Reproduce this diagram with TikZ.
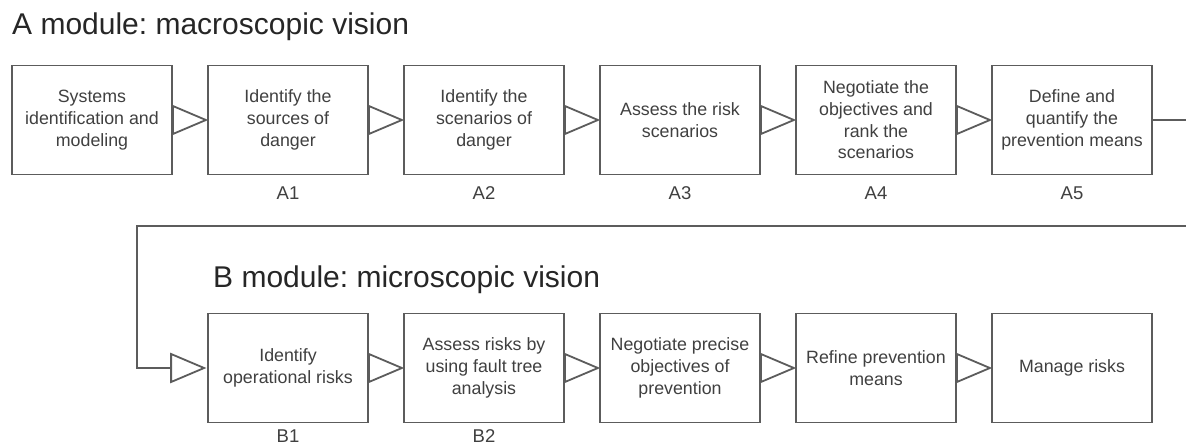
\documentclass[tikz,border=0pt]{standalone}
\usepackage{fontspec}
\setmainfont{Liberation Sans}
\usetikzlibrary{calc}
\frenchspacing
\definecolor{linegray}{HTML}{5C5C5C}
\definecolor{txtgray}{HTML}{404040}
\tikzset{
  stepbox/.style={draw=linegray, line width=1.8pt, fill=white, minimum width=160pt,
    minimum height=109pt, align=center, text=txtgray, inner sep=2pt,
    font=\fontsize{17.8}{21.7}\selectfont},
  steplabel/.style={text=txtgray, font=\fontsize{18.5}{20}\selectfont},
  title/.style={anchor=base west, text=black!85, inner sep=0pt, font=\fontsize{30}{32}\selectfont},
  flowline/.style={draw=linegray, line width=1.8pt},
  flowtri/.style={draw=linegray, line width=1.8pt, fill=white, line join=miter},
}
% open triangle marker: base on the given point, tip pointing right
\newcommand{\flowmark}[1]{\path[flowtri] (#1) -- ++(0,-14) -- ++(33,14) -- ++(-33,14) -- cycle;}
\begin{document}
\begin{tikzpicture}[x=1pt, y=-1pt]
\useasboundingbox[fill=white] (0,0) rectangle (1186,444);

% titles
\node[title] (ta) at (12,35) {A module: macroscopic vision};
\node[title] (tb) at (213,287) {B module: microscopic vision};

% A module
\node[stepbox] (a0) at (92,120)  {Systems\\identification and\\modeling};
\node[stepbox] (a1) at (288,120) {Identify the\\sources of\\danger};
\node[stepbox] (a2) at (484,120) {Identify the\\scenarios of\\danger};
\node[stepbox] (a3) at (680,120) {Assess the risk\\scenarios};
\node[stepbox] (a4) at (876,120) {Negotiate the\\objectives and\\rank the\\scenarios};
\node[stepbox] (a5) at (1072,120) {Define and\\quantify the\\prevention means};

\foreach \n in {1,...,5}
  \node[steplabel] (la\n) at ($(a\n.south)+(0,18)$) {A\n};

\foreach \n in {0,...,4} { \flowmark{a\n.east} }

% B module
\node[stepbox] (b1) at (288,368)  {Identify\\operational risks};
\node[stepbox] (b2) at (484,368)  {Assess risks by\\using fault tree\\analysis};
\node[stepbox] (b3) at (680,368)  {Negotiate precise\\objectives of\\prevention};
\node[stepbox] (b4) at (876,368)  {Refine prevention\\means};
\node[stepbox] (b5) at (1072,368) {Manage risks};

\node[steplabel, anchor=base, inner sep=0pt] (lb1) at (288,442.5) {B1};
\node[steplabel, anchor=base, inner sep=0pt] (lb2) at (484,442.5) {B2};

\foreach \n in {1,...,4} { \flowmark{b\n.east} }

% link from module A to module B
\coordinate (outA) at (1192,120);
\coordinate (backB) at (1192,226);
\coordinate (corner) at (137,226);
\coordinate (inB) at ($(b1.west)+(-36,0)$);
\draw[flowline] (a5.east) -- (outA);
\draw[flowline] (backB) -- (corner) |- (inB);
\flowmark{inB}
\end{tikzpicture}
\end{document}
